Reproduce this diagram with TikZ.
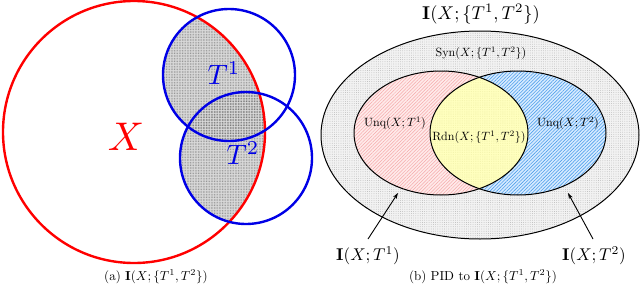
\documentclass[tikz,border=0pt]{standalone}
\usepackage{amsmath}
\usetikzlibrary{patterns,patterns.meta,arrows.meta}
\definecolor{xred}{RGB}{255,0,0}
\definecolor{tblue}{RGB}{0,0,230}
\definecolor{pinkbg}{RGB}{255,234,234}
\definecolor{pinkln}{RGB}{245,170,170}
\definecolor{bluebg}{RGB}{215,235,255}
\definecolor{blueln}{RGB}{80,160,235}
\definecolor{yelbg}{RGB}{255,255,190}
\begin{document}
\begin{tikzpicture}[x=1pt,y=-1pt,
  redc/.style={draw=xred,line width=2.4pt},
  bluec/.style={draw=tblue,line width=2.4pt},
  blk/.style={draw=black,line width=1pt},
  captext/.style={inner sep=0pt,font=\normalsize,scale=1.3},
  lbl/.style={inner sep=0pt,font=\normalsize,scale=1.2},
  titlelbl/.style={inner sep=0pt,font=\normalsize,scale=1.85},
  biglbl/.style={inner sep=0pt,font=\normalsize,scale=1.7},
  arr/.style={-{Stealth[length=6pt,width=4pt]},line width=0.9pt}]
\useasboundingbox (0,0) rectangle (640,284);
% ---------- (a) ----------
\begin{scope}
  \clip (134,132) circle [radius=131];
  \fill[gray!30] (229,75) circle [radius=66];
  \fill[gray!30] (246,158) circle [radius=66];
  \fill[pattern={Dots[distance=1.6pt,radius=0.35pt]},pattern color=gray!80!black] (229,75) circle [radius=66];
  \fill[pattern={Dots[distance=1.6pt,radius=0.35pt]},pattern color=gray!80!black] (246,158) circle [radius=66];
\end{scope}
\draw[redc] (134,132) circle [radius=131];
\draw[bluec] (229,75) circle [radius=66];
\draw[bluec] (246,158) circle [radius=66];
\node[text=xred,inner sep=0pt,font=\normalsize,scale=4] (X) at (126,137) {$X$};
\node[text=tblue,inner sep=0pt,font=\normalsize,scale=2.8] (T1) at (224,73) {$T^1$};
\node[text=tblue,inner sep=0pt,font=\normalsize,scale=2.8] (T2) at (243,153) {$T^2$};
\node[captext] (capa) at (156,277) {(a) $\mathbf{I}(X;\{T^1,T^2\})$};
% ---------- (b) ----------
\fill[gray!10] (480,135) ellipse [x radius=159, y radius=104];
\fill[pattern={Dots[distance=2.2pt,radius=0.35pt]},pattern color=gray!75] (480,135) ellipse [x radius=159, y radius=104];
\fill[white] (441,133) ellipse [x radius=87, y radius=62];
\fill[white] (518,133) ellipse [x radius=88, y radius=62];
\fill[pinkbg] (441,133) ellipse [x radius=87, y radius=62];
\fill[pattern={Lines[distance=2.4pt,angle=45,line width=0.5pt]},pattern color=pinkln] (441,133) ellipse [x radius=87, y radius=62];
\fill[bluebg] (518,133) ellipse [x radius=88, y radius=62];
\fill[pattern={Lines[distance=2.4pt,angle=45,line width=0.6pt]},pattern color=blueln] (518,133) ellipse [x radius=88, y radius=62];
\begin{scope}
  \clip (441,133) ellipse [x radius=87, y radius=62];
  \fill[yelbg] (518,133) ellipse [x radius=88, y radius=62];
  \fill[pattern={Dots[distance=1.8pt,radius=0.3pt]},pattern color=yellow!60!gray!50] (518,133) ellipse [x radius=88, y radius=62];
\end{scope}
\draw[blk] (480,135) ellipse [x radius=159, y radius=104];
\draw[blk] (441,133) ellipse [x radius=87, y radius=62];
\draw[blk] (518,133) ellipse [x radius=88, y radius=62];
\node[titlelbl] (title) at (481,14) {$\mathbf{I}(X;\{T^1,T^2\})$};
\node[lbl] (syn) at (481,53) {$\mathrm{Syn}(X;\{T^1,T^2\})$};
\node[lbl] (u1) at (395,123) {$\mathrm{Unq}(X;T^1)$};
\node[lbl] (rdn) at (479,137) {$\mathrm{Rdn}(X;\{T^1,T^2\})$};
\node[lbl] (u2) at (568,123) {$\mathrm{Unq}(X;T^2)$};
\node[biglbl] (i1) at (368,256) {$\mathbf{I}(X;T^1)$};
\node[biglbl] (i2) at (594,256) {$\mathbf{I}(X;T^2)$};
\coordinate (s1) at (368,239);
\coordinate (e1) at (398,193);
\coordinate (s2) at (593,239);
\coordinate (e2) at (568,193);
\draw[arr] (s1) -- (e1);
\draw[arr] (s2) -- (e2);
\node[captext] (capb) at (483,277) {(b) PID to $\mathbf{I}(X;\{T^1,T^2\})$};
\end{tikzpicture}
\end{document}
